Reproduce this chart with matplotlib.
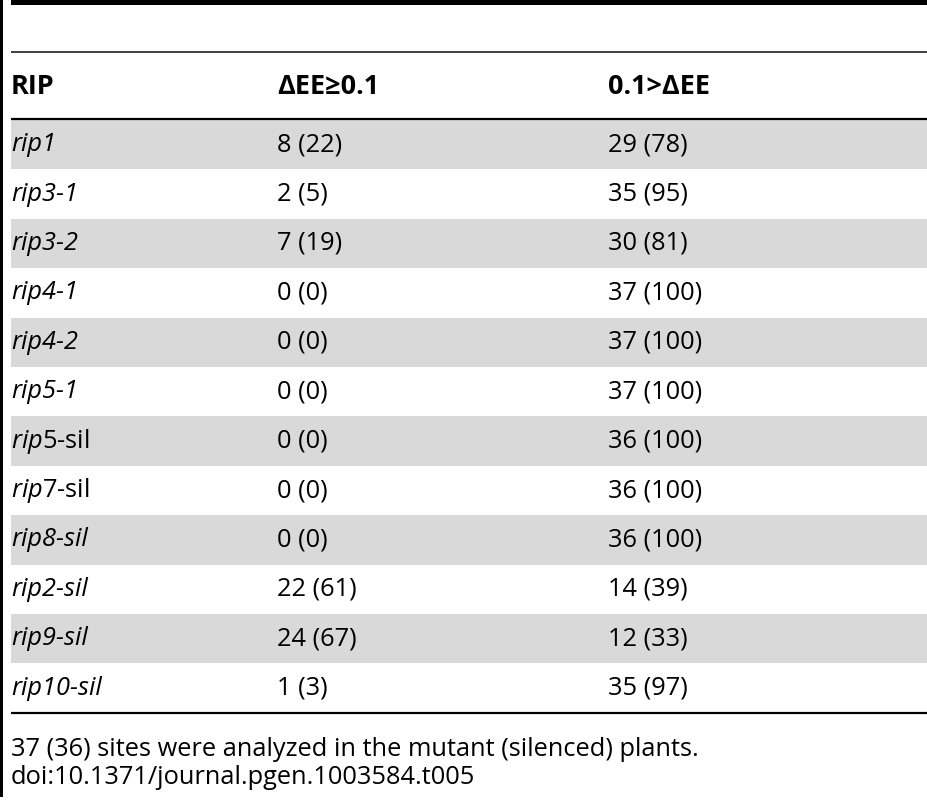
import matplotlib
matplotlib.use("Agg")
import matplotlib.pyplot as plt
from matplotlib.patches import Rectangle

plt.rcParams['font.family'] = ['Open Sans', 'DejaVu Sans']
plt.rcParams['mathtext.fontset'] = 'custom'
plt.rcParams['mathtext.it'] = 'Open Sans:italic'
plt.rcParams['mathtext.rm'] = 'Open Sans'

# table content
headers = ['RIP', '\u0394EE\u22650.1', '0.1>\u0394EE']
names = ['rip1', 'rip3-1', 'rip3-2', 'rip4-1', 'rip4-2', 'rip5-1',
         'rip5-sil', 'rip7-sil', 'rip8-sil', 'rip2-sil', 'rip9-sil', 'rip10-sil']
italic_part = ['rip1', 'rip3-1', 'rip3-2', 'rip4-1', 'rip4-2', 'rip5-1',
               'rip5', 'rip7', 'rip8-sil', 'rip2-sil', 'rip9-sil', 'rip10-sil']
ge_counts = [8, 2, 7, 0, 0, 0, 0, 0, 0, 22, 24, 1]
ge_pct = [22, 5, 19, 0, 0, 0, 0, 0, 0, 61, 67, 3]
lt_counts = [29, 35, 30, 37, 37, 37, 36, 36, 36, 14, 12, 35]
lt_pct = [78, 95, 81, 100, 100, 100, 100, 100, 100, 39, 33, 97]
footnotes = ['37 (36) sites were analyzed in the mutant (silenced) plants.',
             'doi:10.1371/journal.pgen.1003584.t005']

W, H = 928, 800
fig = plt.figure(figsize=(W / 100, H / 100), dpi=100)
ax = fig.add_axes([0, 0, 1, 1])
ax.set_xlim(0, W)
ax.set_ylim(H, 0)
ax.axis('off')

x0 = 11
col_x = [x0, 277, 608]
top_body = 120
row_h = 49.4
fs = 18.3
fs_head = 19.5

# left border bar and top rule
ax.add_patch(Rectangle((0, 0), 3.5, 797, color='black', lw=0))
ax.add_patch(Rectangle((x0, 0), W - x0, 5, color='black', lw=0))
ax.plot([x0, W], [52, 52], color='#333333', lw=1.3, solid_capstyle='butt')

# header
for x, h in zip(col_x, headers):
    ax.text(x, 87, h, fontsize=fs_head, fontweight='bold', va='center', ha='left')
ax.plot([x0, W], [119, 119], color='black', lw=1.6, solid_capstyle='butt')

# body, alternate rows shaded
for i, name in enumerate(names):
    yc = top_body + row_h * (i + 0.5)
    if i % 2 == 0:
        ax.add_patch(Rectangle((x0, top_body + row_h * i), W - x0, row_h,
                               color='#d9d9d9', lw=0))
    it = italic_part[i]
    if it == name:
        ax.text(col_x[0], yc, name, fontsize=fs, style='italic', va='center')
    else:
        rest = name[len(it):]
        ax.text(col_x[0], yc, '$\\mathit{' + it + '}$' + rest, fontsize=fs, va='center')
    ax.text(col_x[1], yc, f'{ge_counts[i]} ({ge_pct[i]})', fontsize=fs, va='center')
    ax.text(col_x[2], yc, f'{lt_counts[i]} ({lt_pct[i]})', fontsize=fs, va='center')

bottom = top_body + row_h * len(names)
ax.plot([x0, W], [bottom, bottom], color='black', lw=1.6, solid_capstyle='butt')

ax.text(x0, 750, footnotes[0], fontsize=fs, va='center')
ax.text(x0, 777, footnotes[1], fontsize=fs, va='center')

fig.savefig('out.png', dpi=100)
